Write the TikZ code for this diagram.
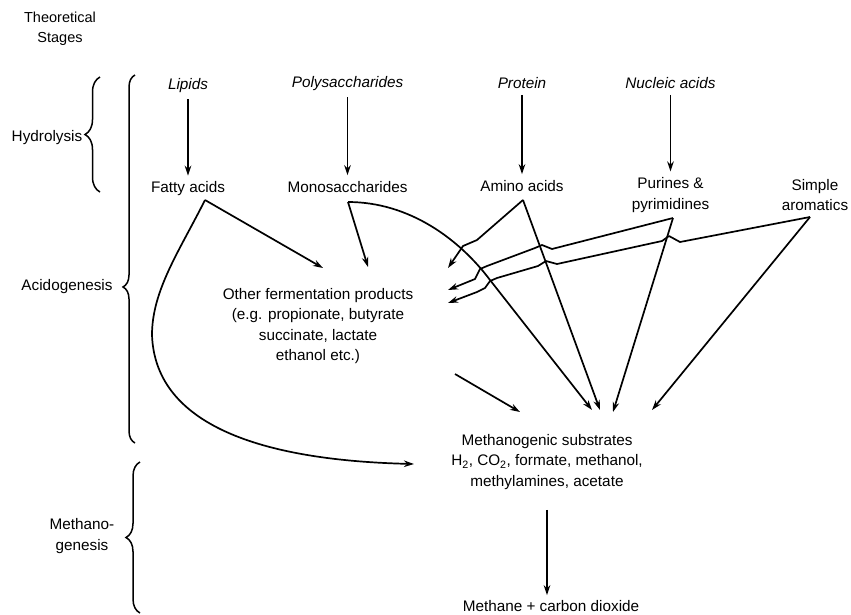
\documentclass[tikz,border=0pt]{standalone}
\usepackage{fontspec}
\setmainfont{Liberation Sans}
\usetikzlibrary{arrows.meta,decorations.pathreplacing}
\begin{document}
\begin{tikzpicture}[x=1pt,y=-1pt,
  lbl/.style={inner sep=0pt, align=center, font=\fontsize{15.3}{20.5}\selectfont},
  itl/.style={inner sep=0pt, align=center, font=\fontsize{15.3}{20.5}\selectfont\itshape},
  arr/.style={line width=1.7pt, line join=round, -{Stealth[length=10pt,width=6.5pt]}},
  vert/.style={arr, shorten <=6pt, shorten >=6pt},
  brc/.style={line width=1.5pt, decorate}]
\useasboundingbox (0,0) rectangle (851,614);

% stage labels
\node[inner sep=0pt, align=center, font=\fontsize{14.5}{20}\selectfont] (ts) at (60,29) {Theoretical\\Stages};
\node[lbl] (hyd) at (47,138) {Hydrolysis};
\node[lbl] (acid) at (67,287) {Acidogenesis};
\node[lbl] (metg) at (82,536) {Methano-\\genesis};

% braces
\draw[brc, decoration={brace, amplitude=15pt, aspect=0.5}] (100,192) -- (100,77);
\draw[brc, decoration={brace, amplitude=12pt, aspect=0.424}] (135,443) -- (135,75);
\draw[brc, decoration={brace, amplitude=14pt, aspect=0.5}] (140,613) -- (140,462);

% polymers
\node[itl] (lip) at (188,86) {Lipids};
\node[itl] (poly) at (347.5,84) {Polysaccharides};
\node[itl] (prot) at (522,83) {Protein};
\node[itl] (nuc) at (670.5,83) {Nucleic acids};

% monomers
\node[lbl] (fa) at (188,189) {Fatty acids};
\node[lbl] (mono) at (347.5,187) {Monosaccharides};
\node[lbl] (amino) at (522,186) {Amino acids};
\node[lbl] (pur) at (670.5,195) {Purines \&\\pyrimidines};
\node[lbl] (arom) at (815,195) {Simple\\aromatics};

% products
\node[lbl] (ofp) at (318,326) {Other fermentation products\\(e.g. propionate, butyrate\\succinate, lactate\\ethanol etc.)};
\node[lbl] (ms) at (547,462) {Methanogenic substrates\\H\textsubscript{2}, CO\textsubscript{2}, formate, methanol,\\methylamines, acetate};
\node[lbl] (mcd) at (551,606) {Methane + carbon dioxide};

% hydrolysis arrows
\draw[vert] (lip.south) -- (lip.south |- fa.north);
\draw[vert] (poly.south) -- (poly.south |- mono.north);
\draw[vert] (prot.south) -- (prot.south |- amino.north);
\draw[vert] (nuc.south) -- (nuc.south |- pur.north);

% connector ends
\coordinate (faO) at (205,200);
\coordinate (monoO) at (348,202);
\coordinate (aminoO) at (523,200);
\coordinate (purO) at (673,218);
\coordinate (aromO) at (810,217);
\coordinate (ofpT1) at (323,268);
\coordinate (ofpT2) at (368,267);
\coordinate (ofpT3) at (448,268);
\coordinate (ofpT4) at (448,290);
\coordinate (ofpT5) at (448,303);
\coordinate (ofpO) at (455,374);
\coordinate (msT0) at (414,464);
\coordinate (msT1) at (520,412);
\coordinate (msT2) at (592,410);
\coordinate (msT3) at (600,410);
\coordinate (msT4) at (613,412);
\coordinate (msT5) at (652,410);

% acidogenesis
\draw[arr] (faO) -- (ofpT1);
\draw[arr] (faO) .. controls (180,250) and (152,290) .. (152,335)
  .. controls (155,420) and (250,460) .. (msT0);
\draw[arr] (monoO) -- (ofpT2);
\draw[arr] (monoO) .. controls (410,202) and (460,240) .. (490,280) -- (msT2);
\draw[arr] (aminoO) -- (msT3);
\draw[arr] (aminoO) -- (477,240) -- (463,246) -- (ofpT3);
\draw[arr] (purO) -- (msT4);
\draw[arr] (purO) -- (552,249) -- (542,245) -- (535,248) -- (487,266)
  -- (480,269) -- (475,279) -- (ofpT4);
\draw[arr] (aromO) -- (680,242) -- (669,236) -- (662,241) -- (557,264)
  -- (546,261) -- (538,266) -- (497,278) -- (490,281) -- (485,288)
  -- (477,292) -- (ofpT5);
\draw[arr] (aromO) -- (msT5);
\draw[arr] (ofpO) -- (msT1);

% methanogenesis
\draw[arr, shorten <=20pt, shorten >=5pt] (ms.south) -- (ms.south |- mcd.north);
\end{tikzpicture}
\end{document}
